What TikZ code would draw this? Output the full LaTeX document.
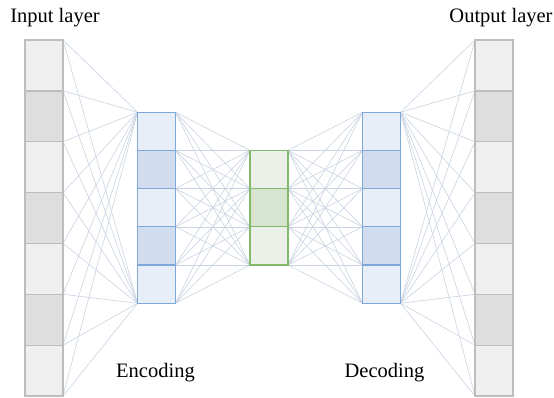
\documentclass[tikz,border=0pt]{standalone}
\usepackage{fontspec}
\setmainfont{Liberation Serif}
\definecolor{linec}{HTML}{C9D3E1}
\definecolor{gL}{HTML}{EFEFEF}
\definecolor{gD}{HTML}{DEDEDE}
\definecolor{gB}{HTML}{BDBDBD}
\definecolor{bL}{HTML}{E8EEF7}
\definecolor{bD}{HTML}{D1DDEF}
\definecolor{bB}{HTML}{7DA8D8}
\definecolor{vL}{HTML}{EBF0E8}
\definecolor{vD}{HTML}{D7E4D0}
\definecolor{vB}{HTML}{83B96B}
\begin{document}
\begin{tikzpicture}[x=1pt,y=-1pt,
  conn/.style={draw=linec, line width=0.6pt},
  cell/.style={rectangle, inner sep=0pt, outer sep=0pt, minimum width=38pt, line width=1.3pt},
  bigcell/.style={cell, minimum height=50.86pt, draw=gB},
  enccell/.style={cell, minimum height=38.2pt, draw=bB},
  midcell/.style={cell, minimum height=38.2pt, draw=vB},
  lab/.style={font=\fontsize{20.5}{24}\selectfont, anchor=base, inner sep=0pt}]
\useasboundingbox (0,0) rectangle (554,397);
% boundary coordinates
\foreach \i in {0,...,7} {
  \coordinate (inR\i) at (63,40+\i*50.86);
  \coordinate (outL\i) at (475,40+\i*50.86);
}
\foreach \i in {0,...,5} {
  \coordinate (encL\i) at (137.5,112.2+\i*38.2);
  \coordinate (encR\i) at (175.5,112.2+\i*38.2);
  \coordinate (decL\i) at (362.5,112.2+\i*38.2);
  \coordinate (decR\i) at (400.5,112.2+\i*38.2);
}
\foreach \i in {0,...,3} {
  \coordinate (midL\i) at (250,150.4+\i*38.2);
  \coordinate (midR\i) at (288,150.4+\i*38.2);
}
% connectors
\foreach \a in {0,...,7} \foreach \b in {0,5} {
  \draw[conn] (inR\a) -- (encL\b);
  \draw[conn] (decR\b) -- (outL\a);
}
\foreach \a in {0,...,5} \foreach \b in {0,...,3} {
  \draw[conn] (encR\a) -- (midL\b);
  \draw[conn] (midR\b) -- (decL\a);
}
% cells
\foreach \i/\f in {0/gL,1/gD,2/gL,3/gD,4/gL,5/gD,6/gL} {
  \node[bigcell, fill=\f] (in\i) at (44,40+\i*50.86+25.43) {};
  \node[bigcell, fill=\f] (out\i) at (494,40+\i*50.86+25.43) {};
}
\foreach \i/\f in {0/bL,1/bD,2/bL,3/bD,4/bL} {
  \node[enccell, fill=\f] (enc\i) at (156.5,112.2+\i*38.2+19.1) {};
  \node[enccell, fill=\f] (dec\i) at (381.5,112.2+\i*38.2+19.1) {};
}
\foreach \i/\f in {0/vL,1/vD,2/vL} {
  \node[midcell, fill=\f] (mid\i) at (269,150.4+\i*38.2+19.1) {};
}
% labels
\node[lab] (tin) at (55,22) {Input layer};
\node[lab] (tout) at (501,22) {Output layer};
\node[lab] (tenc) at (155.5,377) {Encoding};
\node[lab] (tdec) at (384.5,377) {Decoding};
\end{tikzpicture}
\end{document}
